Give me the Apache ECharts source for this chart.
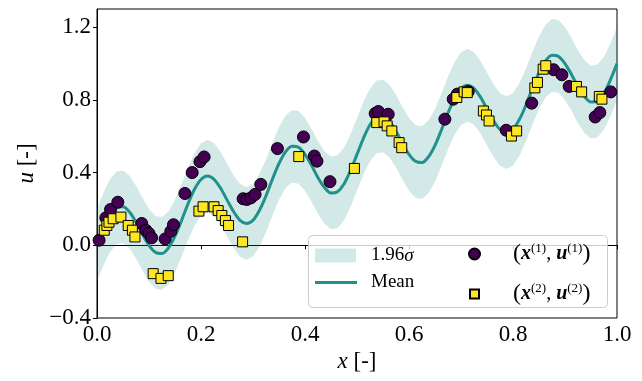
<!DOCTYPE html>
<html>
<head>
<meta charset="utf-8">
<script src="https://cdn.jsdelivr.net/npm/echarts@6/dist/echarts.min.js"></script>
<style>
  html, body { margin: 0; padding: 0; background: #fff; }
  #chart { width: 642px; height: 381px; }
</style>
</head>
<body>
<div id="chart"></div>
<script>
// GP posterior mean sampled on a regular grid in x
const meanX = [
  0.0000, 0.0125, 0.0250, 0.0375, 0.0500, 0.0625, 0.0750, 0.0875, 0.1000, 0.1125,
  0.1250, 0.1375, 0.1500, 0.1625, 0.1750, 0.1875, 0.2000, 0.2125, 0.2250, 0.2375,
  0.2500, 0.2625, 0.2750, 0.2875, 0.3000, 0.3125, 0.3250, 0.3375, 0.3500, 0.3625,
  0.3750, 0.3875, 0.4000, 0.4125, 0.4250, 0.4375, 0.4500, 0.4625, 0.4750, 0.4875,
  0.5000, 0.5125, 0.5250, 0.5375, 0.5500, 0.5625, 0.5750, 0.5875, 0.6000, 0.6125,
  0.6250, 0.6375, 0.6500, 0.6625, 0.6750, 0.6875, 0.7000, 0.7125, 0.7250, 0.7375,
  0.7500, 0.7625, 0.7750, 0.7875, 0.8000, 0.8125, 0.8250, 0.8375, 0.8500, 0.8625,
  0.8750, 0.8875, 0.9000, 0.9125, 0.9250, 0.9375, 0.9500, 0.9625, 0.9750, 0.9875,
  1.0000
];
const meanU = [
  0.000, 0.090, 0.163, 0.206, 0.212, 0.183, 0.128, 0.061, 0.000, -0.039,
  -0.045, -0.014, 0.050, 0.136, 0.228, 0.308, 0.362, 0.381, 0.363, 0.315,
  0.250, 0.186, 0.137, 0.120, 0.138, 0.193, 0.272, 0.365, 0.450, 0.514,
  0.545, 0.539, 0.500, 0.440, 0.372, 0.318, 0.288, 0.295, 0.337, 0.411,
  0.500, 0.590, 0.663, 0.706, 0.712, 0.683, 0.628, 0.561, 0.500, 0.462,
  0.455, 0.487, 0.550, 0.636, 0.728, 0.808, 0.862, 0.881, 0.863, 0.815,
  0.750, 0.686, 0.637, 0.620, 0.638, 0.693, 0.772, 0.865, 0.950, 1.014,
  1.045, 1.039, 1.000, 0.940, 0.872, 0.818, 0.788, 0.795, 0.837, 0.911,
  1.000
];
// half width of the 95% band (1.96 sigma)
const bandHalfWidth = 0.2;

// observations of the first output
const obs1X = [
  0.004, 0.017, 0.026, 0.040, 0.086, 0.094, 0.100, 0.105, 0.131, 0.142,
  0.147, 0.169, 0.183, 0.198, 0.206, 0.281, 0.288, 0.296, 0.304, 0.315,
  0.347, 0.397, 0.418, 0.423, 0.448, 0.535, 0.541, 0.560, 0.669, 0.685,
  0.693, 0.714, 0.787, 0.836, 0.878, 0.894, 0.908, 0.958, 0.967, 0.988
];
const obs1U = [
  0.028, 0.151, 0.197, 0.237, 0.120, 0.083, 0.065, 0.041, 0.035, 0.077,
  0.113, 0.285, 0.400, 0.460, 0.486, 0.256, 0.252, 0.261, 0.280, 0.335,
  0.532, 0.596, 0.491, 0.463, 0.350, 0.725, 0.736, 0.721, 0.694, 0.804,
  0.832, 0.846, 0.633, 0.782, 0.966, 0.938, 0.874, 0.706, 0.730, 0.844
];

// observations of the second output
const obs2X = [
  0.014, 0.019, 0.023, 0.031, 0.046, 0.060, 0.068, 0.073, 0.108, 0.123,
  0.137, 0.196, 0.204, 0.225, 0.233, 0.240, 0.247, 0.253, 0.280, 0.388,
  0.495, 0.538, 0.552, 0.558, 0.567, 0.581, 0.586, 0.692, 0.706, 0.712,
  0.743, 0.749, 0.754, 0.797, 0.807, 0.842, 0.847, 0.858, 0.863, 0.922,
  0.932, 0.966, 0.971
];
const obs2U = [
  0.083, 0.109, 0.127, 0.146, 0.155, 0.109, 0.083, 0.046, -0.156, -0.182,
  -0.167, 0.188, 0.212, 0.212, 0.191, 0.164, 0.136, 0.109, 0.019, 0.488,
  0.423, 0.675, 0.679, 0.657, 0.629, 0.565, 0.537, 0.813, 0.844, 0.840,
  0.739, 0.717, 0.684, 0.601, 0.629, 0.866, 0.896, 0.969, 0.988, 0.874,
  0.844, 0.819, 0.804
];

const xTicks = [0.0, 0.2, 0.4, 0.6, 0.8, 1.0];
const yTicks = [-0.4, 0.0, 0.4, 0.8, 1.2];

const FONT = 'Liberation Serif';
const TEAL = '#21918c';
const BAND = 'rgba(33,145,140,0.2)';
const PURPLE = '#440154';
const YELLOW = '#fde725';

const zip = (a, b) => a.map((v, i) => [v, b[i]]);
// band rows: x, lower, upper
const bandData = meanX.map((x, i) => [x, meanU[i] - bandHalfWidth, meanU[i] + bandHalfWidth]);
const fmt = v => (v < 0 ? '\u2212' + Math.abs(v).toFixed(1) : v.toFixed(1));

const plainRich = {
  t: { fontFamily: FONT, fontSize: 19, color: '#000' },
  i: { fontFamily: FONT, fontSize: 19, fontStyle: 'italic', color: '#000' }
};
const pairRich = {
  p: { fontFamily: FONT, fontSize: 24, color: '#000' },
  b: { fontFamily: FONT, fontSize: 20, fontWeight: 'bold', fontStyle: 'italic', color: '#000' },
  s: { fontFamily: FONT, fontSize: 13, color: '#000', verticalAlign: 'top', padding: [0, 0, 6, 0] },
  c: { fontFamily: FONT, fontSize: 20, color: '#000' }
};
const pairLabel = k => '{p|(}{b|x}{s|(' + k + ')}{c|, }{b|u}{s|(' + k + ')}{p|)}';

// closed polygon: upper edge left to right, then lower edge right to left
function renderBand(params, api) {
  if (params.dataIndexInside !== 0) return null;
  const n = params.dataInsideLength;
  const upper = [], lower = [];
  for (let i = 0; i < n; i++) {
    upper.push(api.coord([bandData[i][0], bandData[i][2]]));
    lower.push(api.coord([bandData[i][0], bandData[i][1]]));
  }
  return {
    type: 'polygon',
    shape: { points: upper.concat(lower.reverse()) },
    style: { fill: BAND, stroke: null },
    silent: true
  };
}

const chart = echarts.init(document.getElementById('chart'), null, { renderer: 'canvas' });
chart.setOption({
  animation: false,
  backgroundColor: '#fff',
  grid: {
    left: 97, right: 25, top: 9, bottom: 63,
    show: true, borderColor: '#000', borderWidth: 1, backgroundColor: 'transparent'
  },
  xAxis: {
    type: 'value', min: 0, max: 1, interval: 0.2,
    name: '{i|x} [-]', nameLocation: 'middle', nameGap: 21,
    nameTextStyle: { fontFamily: FONT, fontSize: 23, color: '#000',
      rich: { i: { fontFamily: FONT, fontStyle: 'italic', fontSize: 23, color: '#000' } } },
    axisLine: { show: true, lineStyle: { color: '#000', width: 1 } },
    axisTick: { show: true, inside: false, length: 4, lineStyle: { color: '#000' }, customValues: xTicks },
    axisLabel: { fontFamily: FONT, fontSize: 23, color: '#000', margin: 5, formatter: fmt, customValues: xTicks },
    splitLine: { show: false }
  },
  yAxis: {
    type: 'value', min: -0.4, max: 1.3,
    name: '{i|u} [-]', nameLocation: 'middle', nameGap: 58, nameRotate: 90,
    nameTextStyle: { fontFamily: FONT, fontSize: 23, color: '#000',
      rich: { i: { fontFamily: FONT, fontStyle: 'italic', fontSize: 23, color: '#000' } } },
    axisLine: { show: true, lineStyle: { color: '#000', width: 1 } },
    axisTick: { show: true, inside: false, length: 4, lineStyle: { color: '#000' }, customValues: yTicks },
    axisLabel: { fontFamily: FONT, fontSize: 23, color: '#000', margin: 6, formatter: fmt, customValues: yTicks },
    splitLine: { show: false }
  },
  legend: [
    {
      data: [{ name: '1.96\u03c3', icon: 'rect', itemStyle: { color: BAND, borderWidth: 0 } }],
      left: 315, top: 246, padding: 0, itemWidth: 41, itemHeight: 14, selectedMode: false, z: 20,
      itemStyle: { borderWidth: 0 },
      formatter: () => '{t|1.96}{i|\u03c3}',
      textStyle: { color: '#000', padding: [0, 0, 0, 10], rich: plainRich }
    },
    {
      data: [{ name: 'Mean', icon: 'path://M0 0H42V3H0Z', itemStyle: { color: TEAL, borderWidth: 0 } }],
      left: 315, top: 273, padding: 0, itemWidth: 42, itemHeight: 14, selectedMode: false, z: 20,
      itemStyle: { borderWidth: 0 },
      formatter: () => '{t|Mean}',
      textStyle: { color: '#000', padding: [0, 0, 0, 9], rich: plainRich }
    },
    {
      data: ['obs1'],
      left: 468, top: 242, padding: 0, itemWidth: 11, itemHeight: 11, selectedMode: false, z: 20,
      formatter: () => pairLabel(1),
      textStyle: { color: '#000', padding: [0, 0, 0, 28], rich: pairRich }
    },
    {
      data: ['obs2'],
      left: 469, top: 282, padding: 0, itemWidth: 9, itemHeight: 9, selectedMode: false, z: 20,
      formatter: () => pairLabel(2),
      textStyle: { color: '#000', padding: [0, 0, 0, 29], rich: pairRich }
    }
  ],
  graphic: [{
    type: 'rect', left: 308, top: 235, z: 10,
    shape: { width: 299, height: 72, r: 4 },
    style: { fill: 'rgba(255,255,255,0.8)', stroke: '#cccccc', lineWidth: 1 }
  }],
  series: [
    {
      name: '1.96\u03c3', type: 'custom', renderItem: renderBand,
      data: bandData, encode: { x: 0, y: [1, 2] }, color: BAND, silent: true, z: 1
    },
    {
      name: 'Mean', type: 'line', smooth: 0.3, showSymbol: false,
      data: zip(meanX, meanU), color: TEAL,
      lineStyle: { color: TEAL, width: 3 }, z: 2
    },
    {
      name: 'obs1', type: 'scatter', symbol: 'circle', symbolSize: 12,
      data: zip(obs1X, obs1U),
      itemStyle: { color: PURPLE, borderColor: '#000', borderWidth: 1, opacity: 1 }, z: 3
    },
    {
      name: 'obs2', type: 'scatter', symbol: 'rect', symbolSize: 10,
      data: zip(obs2X, obs2U),
      itemStyle: { color: YELLOW, borderColor: '#000', borderWidth: 1, opacity: 1 }, z: 4
    }
  ]
});
</script>
</body>
</html>
